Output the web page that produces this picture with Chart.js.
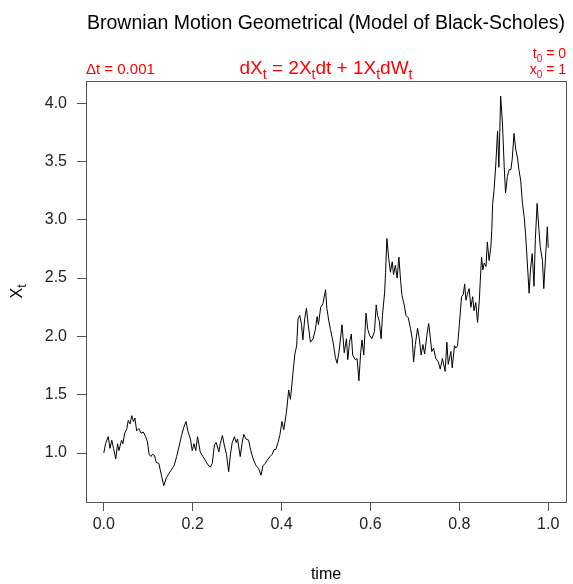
<!DOCTYPE html>
<html>
<head>
<meta charset="utf-8">
<script src="https://cdn.jsdelivr.net/npm/chart.js@4/dist/chart.umd.min.js"></script>
<style>
  html, body { margin: 0; padding: 0; background: #fff; }
  #wrap { width: 573px; height: 584px; }
</style>
</head>
<body>
<div id="wrap"><canvas id="bm" width="573" height="584"></canvas></div>
<script>
// path (time, X_t)
const times = [
  0, .004, .010, .014, .018, .022, .027, .031, .034, .040, .043, .047, .052, .055, .059, .063, .067,
  .070, .074, .079, .084, .089, .094, .098, .102, .106, .110, .114, .118, .124, .129, .135, .141,
  .146, .151, .158, .164, .169, .175, .180, .185, .189, .195, .199, .203, .207, .211, .217, .223,
  .228, .234, .240, .244, .249, .253, .259, .262, .267, .271, .276, .281, .285, .289, .294, .298,
  .301, .307, .311, .315, .320, .326, .329, .333, .338, .343, .348, .354, .358, .363, .368, .374,
  .379, .383, .387, .392, .396, .401, .405, .411, .416, .420, .426, .430, .434, .437, .441, .445,
  .448, .452, .456, .460, .465, .471, .476, .480, .483, .488, .493, .499, .502, .506, .510, .516,
  .521, .525, .529, .536, .541, .546, .549, .553, .557, .560, .566, .570, .574, .578, .581, .585,
  .590, .594, .598, .603, .609, .613, .616, .620, .624, .627, .632, .634, .637, .641, .645, .649,
  .652, .656, .660, .664, .668, .671, .676, .680, .685, .690, .694, .697, .701, .706, .710, .714,
  .718, .722, .727, .731, .735, .738, .742, .747, .753, .757, .762, .768, .772, .775, .781, .784,
  .789, .792, .796, .800, .805, .809, .812, .815, .818, .822, .826, .830, .833, .837, .841, .845,
  .847, .850, .853, .856, .860, .863, .867, .871, .873, .875, .878, .882, .886, .889, .893, .897,
  .901, .904, .908, .912, .916, .919, .923, .927, .931, .934, .938, .942, .946, .949, .953, .957,
  .960, .964, .968, .971, .975, .979, .982, .987, .990, .994, .998, 1.0
]
const values = [
  1.00, 1.08, 1.14, 1.04, 1.11, 1.04, 0.95, 1.08, 1.02, 1.11, 1.08, 1.17, 1.21, 1.28, 1.25, 1.32, 1.27,
  1.30, 1.19, 1.21, 1.17, 1.18, 1.14, 1.10, 0.99, 0.97, 0.99, 0.98, 0.92, 0.91, 0.82, 0.72, 0.79,
  0.82, 0.85, 0.89, 0.97, 1.05, 1.15, 1.22, 1.27, 1.19, 1.12, 1.02, 1.08, 1.02, 1.14, 1.01, 0.97,
  0.94, 0.90, 0.88, 0.91, 1.07, 1.09, 1.01, 1.08, 1.15, 1.07, 0.99, 0.84, 0.99, 1.09, 1.14, 1.09,
  1.12, 0.97, 1.08, 1.16, 1.12, 1.11, 1.05, 0.99, 0.93, 0.89, 0.87, 0.81, 0.89, 0.91, 0.94, 0.97,
  0.99, 1.03, 1.03, 1.09, 1.15, 1.27, 1.20, 1.35, 1.54, 1.46, 1.70, 1.85, 1.92, 2.15, 2.18, 2.10,
  1.97, 2.15, 2.24, 2.10, 1.95, 1.98, 2.06, 2.17, 2.10, 2.25, 2.28, 2.40, 2.24, 2.14, 2.06, 1.95,
  1.82, 1.77, 1.86, 2.10, 1.86, 1.98, 1.80, 1.95, 2.02, 1.84, 1.80, 1.81, 1.62, 1.86, 1.97, 1.84,
  2.20, 2.06, 2.01, 1.98, 2.04, 2.27, 2.18, 2.13, 1.98, 2.18, 2.38, 2.55, 2.84, 2.67, 2.55, 2.64,
  2.53, 2.61, 2.50, 2.68, 2.47, 2.35, 2.27, 2.18, 2.16, 2.07, 1.98, 1.78, 1.93, 2.07, 1.98, 1.84,
  1.93, 1.85, 2.01, 2.11, 1.98, 1.87, 1.90, 1.81, 1.78, 1.72, 1.81, 1.70, 1.95, 1.76, 1.87, 1.73,
  1.92, 1.90, 1.92, 2.10, 2.34, 2.36, 2.45, 2.31, 2.36, 2.41, 2.25, 2.34, 2.22, 2.29, 2.12, 2.31,
  2.47, 2.68, 2.57, 2.63, 2.60, 2.81, 2.65, 2.77, 2.91, 3.14, 3.25, 3.47, 3.76, 3.45, 4.06, 3.83,
  3.45, 3.23, 3.37, 3.43, 3.43, 3.52, 3.74, 3.60, 3.53, 3.43, 3.34, 3.14, 3.02, 2.88, 2.63, 2.37,
  2.57, 2.71, 2.43, 2.83, 3.14, 2.92, 2.77, 2.65, 2.41, 2.68, 2.94, 2.76
]
const xTicks = [0, 0.2, 0.4, 0.6, 0.8, 1.0]
const yTicks = [1.0, 1.5, 2.0, 2.5, 3.0, 3.5, 4.0]

const points = times.map((t, i) => ({ x: t, y: values[i] }))
const FONT = 'Arial, "Liberation Sans", sans-serif'

// draw text with subscripts; parts = [[text, isSub], ...]
function mathText(ctx, parts, x, y, size, align) {
  const subSize = Math.round(size * 0.72)
  let w = 0
  parts.forEach(p => {
    ctx.font = (p[1] ? subSize : size) + 'px ' + FONT
    w += ctx.measureText(p[0]).width
  })
  let cx = align === 'center' ? x - w / 2 : align === 'right' ? x - w : x
  ctx.textAlign = 'left'
  ctx.textBaseline = 'alphabetic'
  parts.forEach(p => {
    ctx.font = (p[1] ? subSize : size) + 'px ' + FONT
    ctx.fillText(p[0], cx, p[1] ? y + size * 0.28 : y)
    cx += ctx.measureText(p[0]).width
  })
}

const decor = {
  id: 'decor',
  afterDraw(chart) {
    const { ctx, chartArea: a } = chart
    ctx.save()
    ctx.strokeStyle = '#555'
    ctx.lineWidth = 1
    ctx.strokeRect(Math.round(a.left) + 0.5, Math.round(a.top) + 0.5,
      Math.round(a.right - a.left), Math.round(a.bottom - a.top))

    ctx.fillStyle = '#000'
    ctx.font = '19.5px ' + FONT
    ctx.textAlign = 'center'
    ctx.textBaseline = 'alphabetic'
    const mid = (a.left + a.right) / 2
    ctx.fillText('Brownian Motion Geometrical (Model of Black-Scholes)', mid, 29)

    ctx.font = '16px ' + FONT
    ctx.fillText('time', mid, 579)
    ctx.save()
    ctx.translate(22, (a.top + a.bottom) / 2)
    ctx.rotate(-Math.PI / 2)
    mathText(ctx, [['X', false], ['t', true]], 0, 0, 16, 'center')
    ctx.restore()

    ctx.fillStyle = '#ff0000'
    mathText(ctx, [['\u0394t = 0.001', false]], a.left, 74, 15, 'left')
    mathText(ctx, [['dX', false], ['t', true], [' = 2X', false], ['t', true], ['dt + 1X', false],
      ['t', true], ['dW', false], ['t', true]], mid, 74, 19, 'center')
    mathText(ctx, [['t', false], ['0', true], [' = 0', false]], a.right, 58, 14, 'right')
    mathText(ctx, [['x', false], ['0', true], [' = 1', false]], a.right, 74, 14, 'right')
    ctx.restore()
  }
}

new Chart(document.getElementById('bm'), {
  type: 'line',
  data: {
    datasets: [{
      data: points,
      borderColor: '#000',
      borderWidth: 1,
      pointRadius: 0,
      tension: 0,
      fill: false
    }]
  },
  options: {
    responsive: false,
    animation: false,
    layout: { padding: { top: 81, right: 7, left: 0, bottom: 0 } },
    plugins: { legend: { display: false }, tooltip: { enabled: false } },
    scales: {
      x: {
        type: 'linear',
        min: -0.04,
        max: 1.04,
        afterBuildTicks: s => { s.ticks = xTicks.map(v => ({ value: v })) },
        afterFit: s => { s.height = 82 },
        grid: { drawOnChartArea: false, tickLength: 9, color: '#555' },
        border: { display: false },
        ticks: { color: '#222', padding: 4, maxRotation: 0, font: { family: FONT, size: 16 },
          callback: v => v.toFixed(1) }
      },
      y: {
        min: 0.58,
        max: 4.19,
        afterBuildTicks: s => { s.ticks = yTicks.map(v => ({ value: v })) },
        afterFit: s => { s.width = 86 },
        grid: { drawOnChartArea: false, tickLength: 9, color: '#555' },
        border: { display: false },
        ticks: { color: '#222', padding: 10, font: { family: FONT, size: 16 },
          callback: v => v.toFixed(1) }
      }
    }
  },
  plugins: [decor]
})
</script>
</body>
</html>
